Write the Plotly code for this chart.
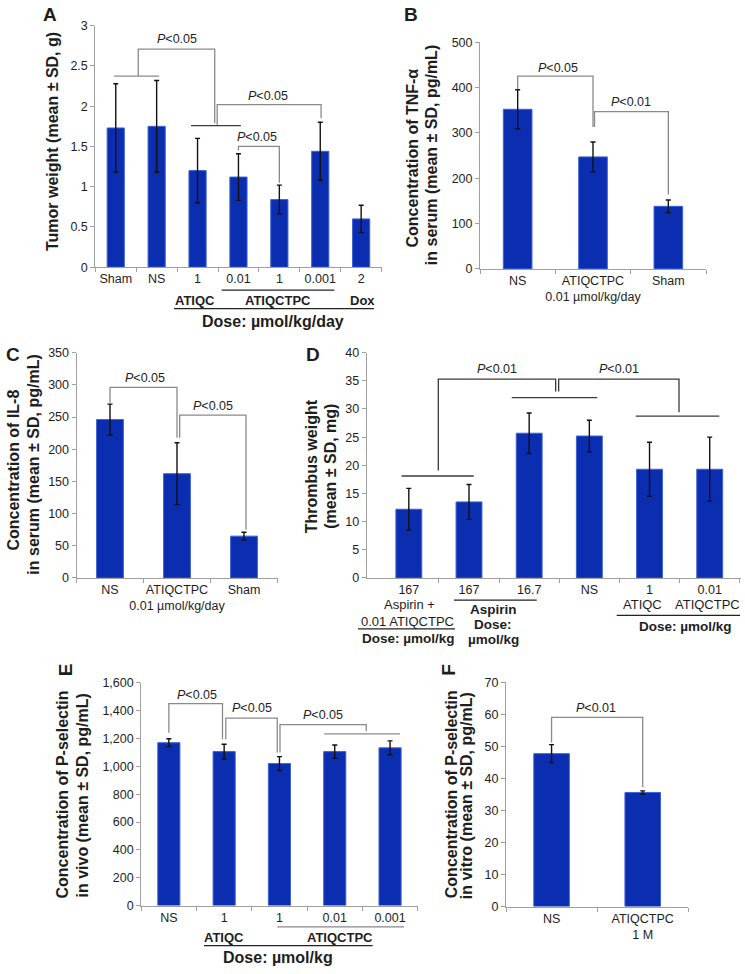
import plotly.graph_objects as go

W, H = 745, 974
FONT = "Arial, 'Liberation Sans', Helvetica, sans-serif"
BAR = "#0B2DB0"
BAR_EDGE = "#3D62D6"
AXIS = "#A0A0A0"
TXT = "#1E1E1E"
BRK = "#8A8A8A"
DARK = "#3A3A3A"

# ---------------- data ----------------
a_labels = ["Sham", "NS", "1", "0.01", "1", "0.001", "2"]
a_values = [1.73, 1.75, 1.20, 1.12, 0.84, 1.44, 0.60]
a_sd = [0.55, 0.57, 0.40, 0.29, 0.18, 0.36, 0.17]

b_labels = ["NS", "ATIQCTPC<br>0.01 µmol/kg/day", "Sham"]
b_values = [352, 247, 138]
b_sd = [43, 33, 14]

c_labels = ["NS", "ATIQCTPC<br>0.01 µmol/kg/day", "Sham"]
c_values = [246, 162, 65]
c_sd = [24, 48, 6]

d_labels = ["167", "167", "16.7", "NS", "1", "0.01"]
d_values = [12.2, 13.5, 25.7, 25.2, 19.3, 19.3]
d_sd = [3.7, 3.1, 3.6, 2.8, 4.8, 5.7]

e_labels = ["NS", "1", "1", "0.01", "0.001"]
e_values = [1170, 1106, 1020, 1106, 1133]
e_sd = [28, 53, 50, 48, 50]

f_labels = ["NS", "ATIQCTPC<br>1 M"]
f_values = [47.7, 35.6]
f_sd = [2.8, 0.5]

fig = go.Figure()
shapes = []
annots = []


def ref(k, ax):
    return ax if k == 1 else f"{ax}{k}"


def add_panel(k, labels, values, sd, box, ymax, dtick, xr, width,
              tickfmt=None, minor_vals=None):
    x = list(range(len(values)))
    fig.add_trace(go.Bar(
        x=x, y=values, width=width,
        marker=dict(color=BAR, line=dict(color=BAR_EDGE, width=1)),
        error_y=dict(type="data", array=sd, visible=True, color="#111111",
                     thickness=1.4, width=2.5),
        xaxis=ref(k, "x"), yaxis=ref(k, "y"), hoverinfo="skip"))
    x0, x1, yt, yb = box
    if minor_vals is None:
        minor_vals = [i - 0.5 for i in range(len(values) + 1)]
    xa = dict(domain=[x0 / W, x1 / W], anchor=ref(k, "y"), range=xr,
              tickmode="array", tickvals=x, ticktext=labels, ticks="",
              showline=True, linecolor=AXIS, linewidth=1, showgrid=False,
              zeroline=False,
              tickfont=dict(size=12.5, color=TXT, family=FONT),
              minor=dict(tickmode="array", tickvals=minor_vals,
                         ticks="outside", ticklen=4, tickcolor=AXIS,
                         showgrid=False),
              fixedrange=True)
    ya = dict(domain=[1 - yb / H, 1 - yt / H], anchor=ref(k, "x"),
              range=[0, ymax], tickmode="linear", tick0=0, dtick=dtick,
              ticks="outside", ticklen=4, tickcolor=AXIS, showline=True,
              linecolor=AXIS, linewidth=1, showgrid=False, zeroline=False,
              tickfont=dict(size=12.5, color=TXT, family=FONT),
              fixedrange=True)
    if tickfmt:
        ya["tickformat"] = tickfmt
    fig.update_layout({("xaxis" if k == 1 else f"xaxis{k}"): xa,
                       ("yaxis" if k == 1 else f"yaxis{k}"): ya})


def bracket(k, x0, y0, ytop, x1, y1, color=BRK, w=1.3):
    shapes.append(dict(type="path",
                       path=f"M {x0},{y0} L {x0},{ytop} L {x1},{ytop} L {x1},{y1}",
                       xref=ref(k, "x"), yref=ref(k, "y"),
                       line=dict(color=color, width=w)))


def hline(k, x0, x1, y, color=BRK, w=1.3):
    shapes.append(dict(type="line", x0=x0, x1=x1, y0=y, y1=y,
                       xref=ref(k, "x"), yref=ref(k, "y"),
                       line=dict(color=color, width=w)))


def ptext(k, x, y, s):
    annots.append(dict(x=x, y=y, xref=ref(k, "x"), yref=ref(k, "y"),
                       text="<i>P</i>&lt;" + s, showarrow=False,
                       font=dict(size=12.5, color=TXT, family=FONT),
                       xanchor="center", yanchor="middle"))


def ptxt(px, py, s, size=12.5, bold=False, angle=0, color=TXT):
    annots.append(dict(x=px / W, y=1 - py / H, xref="paper", yref="paper",
                       text=(f"<b>{s}</b>" if bold else s), showarrow=False,
                       textangle=angle,
                       font=dict(size=size, color=color, family=FONT),
                       xanchor="center", yanchor="middle"))


def pline(px0, px1, py, color="#222222", w=1.2):
    shapes.append(dict(type="line", x0=px0 / W, x1=px1 / W,
                       y0=1 - py / H, y1=1 - py / H, xref="paper",
                       yref="paper", line=dict(color=color, width=w)))


TS = 16  # axis title size

# ---------------- panel A ----------------
add_panel(1, a_labels, a_values, a_sd, (95.3, 381.6, 19, 264), 3, 0.5,
          [-0.5, 6.5], 0.42)
hline(1, -0.04, 1.06, 2.375)
bracket(1, 0.55, 2.375, 2.71, 2.42, 1.79)
hline(1, 1.84, 3.06, 1.76, color=DARK)
bracket(1, 2.48, 1.77, 2.02, 5.02, 1.85)
bracket(1, 3.0, 1.45, 1.50, 4.0, 1.05)
ptext(1, 1.5, 2.83, "0.05")
ptext(1, 3.73, 2.13, "0.05")
ptext(1, 3.45, 1.62, "0.05")
pline(221.7, 334.3, 287.3)
ptxt(195, 297.7, "ATIQC", 13, True)
ptxt(278, 297.7, "ATIQCTPC", 13, True)
ptxt(362, 297.7, "Dox", 13, True)
pline(174, 374, 306)
ptxt(272.5, 319.5, "Dose: µmol/kg/day", 16, True)
ptxt(52, 136, "Tumor weight (mean ± SD, g)", TS, True, -90)
ptxt(50, 8, "A", 19, True)

# ---------------- panel B ----------------
add_panel(2, b_labels, b_values, b_sd, (480, 706, 35.7, 265.7), 500, 100,
          [-0.5, 2.5], 0.38)
bracket(2, 0, 396, 425, 1.0, 313)
bracket(2, 1.02, 313, 347, 2.0, 164)
ptext(2, 0.53, 443, "0.05")
ptext(2, 1.51, 367, "0.01")
ptxt(412.7, 153, "Concentration of TNF-α", TS, True, -90)
ptxt(432.3, 150, "in serum (mean ± SD, pg/mL)", TS, True, -90)
ptxt(411, 8, "B", 19, True)

# ---------------- panel C ----------------
add_panel(3, c_labels, c_values, c_sd, (76.5, 277.5, 350.7, 579.3), 350, 50,
          [-0.5, 2.5], 0.40)
bracket(3, 0, 272, 296, 1.0, 218)
bracket(3, 1.04, 218, 253, 2.03, 75)
ptext(3, 0.52, 310, "0.05")
ptext(3, 1.54, 267, "0.05")
ptxt(13.3, 470, "Concentration of IL-8", TS, True, -90)
ptxt(33.3, 464, "in serum (mean ± SD, pg/mL)", TS, True, -90)
ptxt(13.3, 353, "C", 19, True)

# ---------------- panel D ----------------
add_panel(4, d_labels, d_values, d_sd, (366.7, 741, 350.7, 579.3), 40, 5,
          [-0.70, 5.52], 0.43,
          minor_vals=[i + 0.5 for i in range(len(d_values))])
hline(4, -0.12, 1.08, 18.1, color=DARK)
bracket(4, 0.49, 19.1, 35.3, 2.44, 33.1, color=DARK)
hline(4, 1.71, 3.13, 32.0, color=DARK)
bracket(4, 2.49, 33.1, 35.3, 4.49, 29.4, color=DARK)
hline(4, 3.77, 5.16, 28.75, color=DARK)
ptext(4, 1.46, 37.1, "0.01")
ptext(4, 3.49, 37.1, "0.01")
ptxt(409, 606.7, "Aspirin +", 13)
ptxt(407, 623.3, "0.01 ATIQCTPC", 13)
pline(358, 455, 631)
ptxt(408, 641, "Dose: µmol/kg", 13.5, True)
pline(454, 536.7, 601.7)
ptxt(493, 611.7, "Aspirin", 13.5, True)
ptxt(493, 626.7, "Dose:", 13.5, True)
ptxt(493, 641.7, "µmol/kg", 13.5, True)
ptxt(642, 606.7, "ATIQC", 13)
ptxt(707, 606.7, "ATIQCTPC", 13)
pline(616.7, 740, 617.3)
ptxt(685, 628.3, "Dose: µmol/kg", 13.5, True)
ptxt(311, 466, "Thrombus weight", TS, True, -90)
ptxt(330.5, 466, "(mean ± SD, mg)", TS, True, -90)
ptxt(312.5, 353, "D", 19, True)

# ---------------- panel E ----------------
add_panel(5, e_labels, e_values, e_sd, (141.2, 417.7, 685.7, 911.7), 1600,
          200, [-0.5, 4.5], 0.40, tickfmt=",d")
bracket(5, 0, 1241, 1450, 0.97, 1194)
bracket(5, 1.03, 1194, 1347, 1.96, 1099)
bracket(5, 2.01, 1099, 1300, 3.57, 1253)
hline(5, 2.81, 4.18, 1234)
ptext(5, 0.5, 1513, "0.05")
ptext(5, 1.5, 1416, "0.05")
ptext(5, 2.79, 1369, "0.05")
pline(277.3, 404, 933.3, color="#888888")
ptxt(224, 944, "ATIQC", 13, True)
ptxt(340, 944, "ATIQCTPC", 13, True)
pline(204, 372.7, 952.3)
ptxt(278.3, 964, "Dose: µmol/kg", 16, True)
ptxt(63, 799, "Concentration of P-selectin", TS, True, -90)
ptxt(83, 800, "in vivo (mean ± SD, pg/mL)", TS, True, -90)
ptxt(65, 673, "E", 19, True, -90)

# ---------------- panel F ----------------
add_panel(6, f_labels, f_values, f_sd, (506, 688.3, 685, 912.7), 70, 10,
          [-0.5, 1.5], 0.39)
bracket(6, 0, 51.2, 59.0, 1.0, 37.2)
ptext(6, 0.49, 61.8, "0.01")
ptxt(451.7, 799, "Concentration of P-selectin", TS, True, -90)
ptxt(466.7, 800, "in vitro (mean ± SD, pg/mL)", TS, True, -90)
ptxt(448.5, 673, "F", 19, True, -90)

fig.update_layout(width=W, height=H, margin=dict(l=0, r=0, t=0, b=0),
                  paper_bgcolor="white", plot_bgcolor="white",
                  showlegend=False, shapes=shapes, annotations=annots,
                  font=dict(family=FONT, color=TXT), bargap=0)

fig.write_html("out.html",
               config={"displayModeBar": False, "staticPlot": True},
               post_script="document.body.style.margin='0';"
                           "document.body.style.overflow='hidden';")
